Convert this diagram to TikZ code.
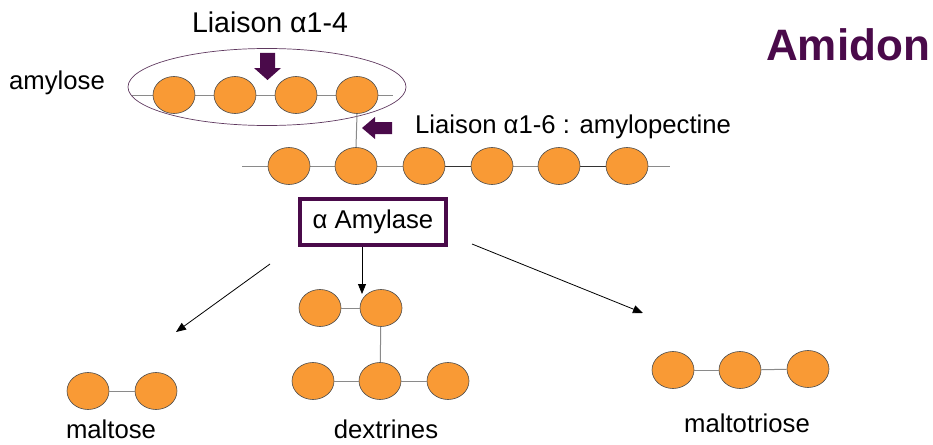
\documentclass[tikz,border=0pt]{standalone}
\usepackage{fontspec}
\setmainfont{Liberation Sans}
\usetikzlibrary{arrows.meta,shapes.geometric}
\definecolor{glc}{HTML}{F99A35}
\definecolor{plum}{HTML}{4A0A4A}
\definecolor{bond}{HTML}{8A8A8A}
\tikzset{
  glu/.style={ellipse, draw=black!70, line width=0.6pt, fill=glc, minimum width=42pt, minimum height=37pt, inner sep=0pt},
  bondline/.style={draw=bond, line width=1pt},
  lbl/.style={font=\fontsize{25.7}{30}\selectfont, inner sep=0pt},
  cut/.style={draw=black, line width=0.8pt, -{Triangle[length=10pt,width=8pt]}},
  blockarrow/.style={fill=plum, draw=none}
}
\begin{document}
\begin{tikzpicture}[x=1pt,y=-1pt]
\useasboundingbox (0,0) rectangle (933,444);

% title
\node[font=\fontsize{44}{50}\selectfont\bfseries, text=plum, inner sep=0pt] (title) at (848,45) {Amidon};

% amylose chain inside its ellipse
\node[lbl] (amylose) at (57,83) {amylose};
\node[lbl, font=\fontsize{28.5}{32}\selectfont] (l14) at (270,22) {Liaison α1-4};
\coordinate (aL) at (132,95);
\coordinate (aR) at (393,95);
\draw[bondline] (aL) -- (aR);
\foreach \i/\x in {1/174,2/235,3/296,4/357} \node[glu] (a\i) at (\x,95) {};
\node[ellipse, draw=plum!60!gray, line width=0.7pt, minimum width=278pt, minimum height=77pt, inner sep=0pt] (amyring) at (267,87) {};
% arrow pointing at the 1-4 bond
\fill[blockarrow] (260,53) -- (275,53) -- (275,68) -- (281,68) -- (267.5,80) -- (254,68) -- (260,68) -- cycle;

% amylopectine backbone
\coordinate (pL) at (242,166);
\coordinate (pR) at (670,166);
\draw[bondline] (pL) -- (pR);
\draw[draw=black!80, line width=1pt] (424,166) -- (492,166);
\draw[draw=black!80, line width=1pt] (559,166) -- (627,166);
\foreach \i/\x in {1/289,2/356,3/424,4/492,5/559,6/627} \node[glu] (p\i) at (\x,166) {};
% 1-6 branch
\draw[bondline] (a4.south) -- (p2.north);
\fill[blockarrow] (362,128) -- (375,117) -- (375,122) -- (392,122) -- (392,134) -- (375,134) -- (375,139) -- cycle;
\node[lbl, anchor=west] (l16) at (415,127) {Liaison α1-6 : amylopectine};

% enzyme
\node[lbl, draw=plum, line width=3.5pt, minimum width=146pt, minimum height=46pt] (enz) at (373,222) {α Amylase};
\coordinate (cutL) at (270,264);
\coordinate (cutLend) at (176,332);
\coordinate (cutR) at (472,244);
\coordinate (cutRend) at (643,313);
\coordinate (cutMend) at (362,294);
\draw[cut] (cutL) -- (cutLend);
\draw[cut] (cutR) -- (cutRend);
\draw[cut] (enz.south -| cutMend) -- (cutMend);

% maltose
\node[glu] (m1) at (88,391) {};
\node[glu] (m2) at (156,391) {};
\draw[bondline] (m1) -- (m2);
\node[lbl] (maltose) at (111,429) {maltose};

% dextrines
\node[glu] (d1) at (320,308) {};
\node[glu] (d2) at (381,308) {};
\node[glu] (d3) at (313,381) {};
\node[glu] (d4) at (380,381) {};
\node[glu] (d5) at (448,381) {};
\draw[bondline] (d1) -- (d2);
\draw[bondline] (d2) -- (d4);
\draw[bondline] (d3) -- (d4);
\draw[bondline] (d4) -- (d5);
\node[lbl] (dex) at (386,429) {dextrines};

% maltotriose
\node[glu] (t1) at (673,370) {};
\node[glu] (t2) at (740,370) {};
\node[glu] (t3) at (808,369) {};
\draw[bondline] (t1) -- (t2);
\draw[bondline] (t2) -- (t3);
\node[lbl] (tri) at (747,423) {maltotriose};
\end{tikzpicture}
\end{document}
